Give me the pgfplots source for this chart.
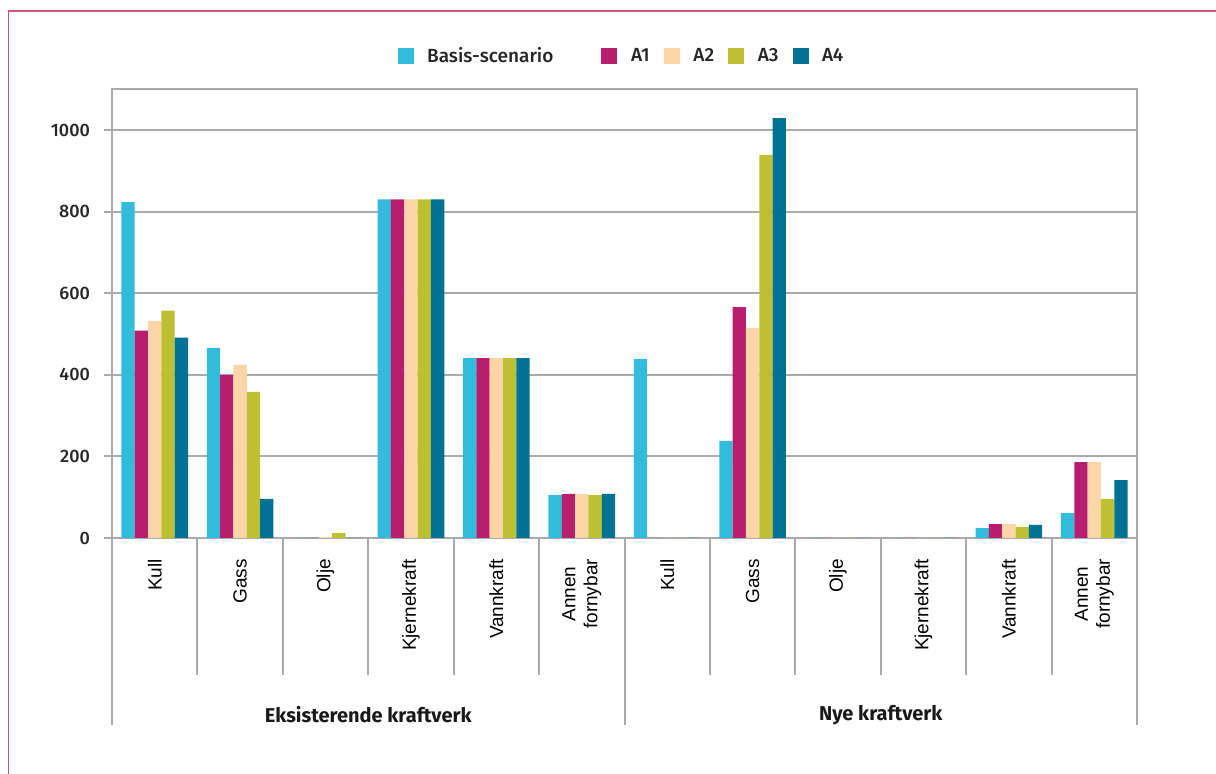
\documentclass[border=0pt]{standalone}
\usepackage{fontspec}
\setmainfont{Liberation Sans}
\newfontfamily\numfont{Fira Sans}[UprightFont={* Medium},BoldFont={* Bold}]
\usepackage{pgfplots}
\usepackage{pgfplotstable}
\pgfplotsset{compat=1.18}

\definecolor{cBasis}{HTML}{33BBDB}
\definecolor{cAone}{HTML}{B81E6E}
\definecolor{cAtwo}{HTML}{FCD6A8}
\definecolor{cAthree}{HTML}{BDC032}
\definecolor{cAfour}{HTML}{007294}
\definecolor{gridgray}{HTML}{AAAAAA}
\definecolor{framepink}{HTML}{CC5580}

% 0-5 eksisterende, 6-11 nye kraftverk
\pgfplotstableread{
x basis a1  a2  a3  a4
0 823   508 532 557 491
1 466   400 424 358 96
2 0     0   2   12  0
3 830   830 830 830 830
4 441   441 441 441 441
5 105   108 108 105 108
6 439   0   0   0   0
7 238   566 515 939 1029
8 0     0   0   0   0
9 0     0   0   0   0
10 24   34  34  27  32
11 61   186 186 96  142
}\kraft

\begin{document}
\begin{tikzpicture}
\useasboundingbox (0pt,0pt) rectangle (608pt,387pt);
\draw[framepink, line width=0.8pt] (4.25pt,-5pt) -- (4.25pt,381.5pt) -- (620pt,381.5pt);
\begin{axis}[
  at={(56pt,118pt)}, anchor=south west,
  scale only axis, width=512.5pt, height=224.4pt,
  ybar=0pt, bar width=0.156,
  xmin=-0.5, xmax=11.5, ymin=0, ymax=1100,
  xtick={0,...,11},
  xticklabels={Kull,Gass,Olje,Kjernekraft,Vannkraft,{Annen\\fornybar},
               Kull,Gass,Olje,Kjernekraft,Vannkraft,{Annen\\fornybar}},
  ytick={0,200,...,1000},
  ytick pos=left,
  ymajorgrids, grid style={gridgray, line width=1pt},
  axis line style={gridgray, line width=1pt},
  major x tick style={draw=none},
  ytick style={gridgray, line width=1pt},
  tick align=outside, major tick length=4pt,
  /pgf/number format/assume math mode=true,
  /pgf/number format/1000 sep={},
  yticklabel style={font=\numfont\fontsize{9}{10}\selectfont, text=black!85, xshift=-3.5pt},
  xticklabel style={font=\fontsize{9.5}{11}\selectfont, yshift=-3pt, rotate=90,
                    anchor=east, align=center, text=black},
  legend columns=-1,
  legend style={at={(axis description cs:0.497,1.073)}, anchor=center, draw=none,
                font=\numfont\fontsize{9.5}{11}\selectfont, text=black!85,
                nodes={inner xsep=1pt},
                /tikz/every odd column/.append style={column sep=5.8pt},
                /tikz/every even column/.append style={column sep=6pt}},
  legend image code/.code={\fill[#1,draw=none] (0pt,-4pt) rectangle (8pt,4pt);},
  clip=false,
]
\addplot[fill=cBasis, draw=none] table[x=x, y=basis] {\kraft};
\addplot[fill=cAone, draw=none] table[x=x, y=a1] {\kraft};
\addplot[fill=cAtwo, draw=none] table[x=x, y=a2] {\kraft};
\addplot[fill=cAthree, draw=none] table[x=x, y=a3] {\kraft};
\addplot[fill=cAfour, draw=none] table[x=x, y=a4] {\kraft};
\legend{Basis-scenario\hspace*{17pt}, A1, A2, A3, A4}

\pgfplotsinvokeforeach{0.5,1.5,2.5,3.5,4.5,6.5,7.5,8.5,9.5,10.5}{
  \draw[gridgray, line width=1pt] (axis cs:#1,0) -- ++(0pt,-68.5pt);
}
\pgfplotsinvokeforeach{-0.5,5.5,11.5}{
  \draw[gridgray, line width=1pt] (axis cs:#1,0) -- ++(0pt,-93.5pt);
}
\node[font=\numfont\bfseries\fontsize{10}{12}\selectfont, text=black!90, yshift=-88.5pt]
  at (axis cs:2.5,0) {Eksisterende kraftverk};
\node[font=\numfont\bfseries\fontsize{10}{12}\selectfont, text=black!90, yshift=-88.5pt]
  at (axis cs:8.5,0) {Nye kraftverk};
\end{axis}
\end{tikzpicture}
\end{document}
